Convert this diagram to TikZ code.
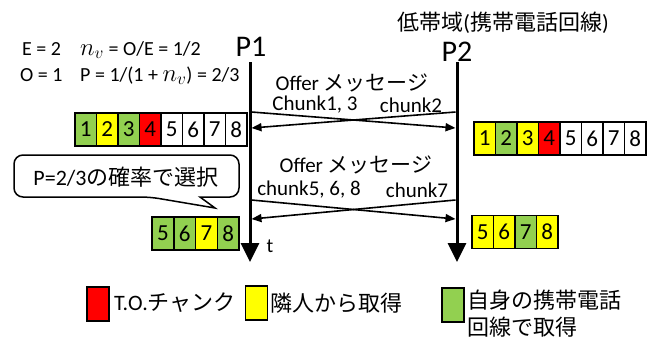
\documentclass[tikz,border=0pt]{standalone}
\usepackage{fontspec}
\setmainfont{Carlito}
\newfontfamily\jp{Noto Sans CJK JP}
\usetikzlibrary{arrows.meta}
\definecolor{cgreen}{HTML}{92D050}
\definecolor{cyellow}{HTML}{FFFF00}
\definecolor{cred}{HTML}{FF0000}
\begin{document}
\begin{tikzpicture}[x=1pt,y=-1pt,
  timeline/.style={line width=3pt,-{Triangle[width=18pt,length=19pt]}},
  msg/.style={line width=1.6pt,-{Triangle[width=8pt,length=10pt]}},
  cell/.style={draw,line width=1.5pt,minimum width=21.5pt,minimum height=33pt,inner sep=0pt,font=\fontsize{23}{23}\selectfont},
  legbox/.style={draw,line width=1.5pt,minimum width=22pt,minimum height=34pt,inner sep=0pt},
  txt/.style={inner sep=0pt},
  big/.style={txt,font=\fontsize{30}{30}\selectfont},
  mid/.style={txt,font=\fontsize{20}{20}\selectfont},
  sml/.style={txt,font=\fontsize{21}{21}\selectfont},
  leg/.style={txt,anchor=west,font=\fontsize{22}{22}\selectfont},
]
\useasboundingbox (0,0) rectangle (652,338);

% timelines
\coordinate (p1top) at (250,62);
\coordinate (p1bot) at (250,262);
\coordinate (p2top) at (457,62);
\coordinate (p2bot) at (457,262);
\draw[timeline] (p1top) -- (p1bot);
\draw[timeline] (p2top) -- (p2bot);

% labels at top
\node[big] (P1) at (251,47) {P1};
\node[big] (P2) at (457,52) {P2};
\node[txt,font=\fontsize{22}{22}\selectfont] (band) at (503,23) {{\jp 低帯域}({\jp 携帯電話回線})};

\node[mid,anchor=base west] (E) at (22,55) {E = 2};
\node[mid,anchor=base west] (nv) at (80,55) {{\fontsize{24}{24}\selectfont$n_v$} = O/E = 1/2};
\node[mid,anchor=base west] (O) at (20,81) {O = 1};
\node[mid,anchor=base west] (P) at (80,81) {P = 1/(1 + {\fontsize{24}{24}\selectfont$n_v$}) = 2/3};

% first exchange
\node[mid,font=\fontsize{21}{21}\selectfont] (offer1) at (352,83) {Offer {\jp メッセージ}};
\node[sml] (c13) at (315,105) {Chunk1, 3};
\node[sml] (c2) at (411,105) {chunk2};
\coordinate (a1) at (251.5,112);
\coordinate (b1) at (455.5,128);
\coordinate (a2) at (455.5,112);
\coordinate (b2) at (251.5,128);
\draw[msg] (a1) -- (b1);
\draw[msg] (a2) -- (b2);

% second exchange
\node[mid,font=\fontsize{21}{21}\selectfont] (offer2) at (356,165) {Offer {\jp メッセージ}};
\node[sml] (c568) at (309,190) {chunk5, 6, 8};
\node[sml] (c7) at (417,190) {chunk7};
\coordinate (a3) at (251.5,200);
\coordinate (b3) at (455.5,219);
\coordinate (a4) at (455.5,200);
\coordinate (b4) at (251.5,219);
\draw[msg] (a3) -- (b3);
\draw[msg] (a4) -- (b4);

\node[sml,font=\fontsize{20}{20}\selectfont] (t) at (270,246) {t};

% chunk cells
\foreach \i/\c in {1/cgreen,2/cyellow,3/cgreen,4/cred,5/white,6/white,7/white,8/white}
  \node[cell,fill=\c] (L\i) at ({85.75+21.5*(\i-1)},129.5) {\i};
\foreach \i/\c in {1/cyellow,2/cgreen,3/cyellow,4/cred,5/white,6/white,7/white,8/white}
  \node[cell,fill=\c] (R\i) at ({484.75+21.5*(\i-1)},138.5) {\i};
\foreach \i/\c in {5/cgreen,6/cgreen,7/cyellow,8/cgreen}
  \node[cell,fill=\c,minimum width=21.75pt] (LL\i) at ({162.9+21.75*(\i-5)},233.5) {\i};
\foreach \i/\c in {5/cyellow,6/cyellow,7/cgreen,8/cyellow}
  \node[cell,fill=\c] (RR\i) at ({482.75+21.5*(\i-5)},232) {\i};

% callout
\draw[line width=1.5pt,fill=white,rounded corners=9pt]
  (120,155) -- (14,155) -- (14,197) -- (150,197) [sharp corners] -- (215,208) -- (200,197)
  [rounded corners=9pt] -- (239,197) -- (239,155) -- cycle;
\node[txt,font=\fontsize{22}{22}\selectfont] (callout) at (126,177) {P=2/3{\jp の確率で選択}};

% legend
\node[legbox,fill=cred] (legR) at (98,304) {};
\node[leg] (legRt) at (114,303) {T.O.{\jp チャンク}};
\node[legbox,fill=cyellow] (legY) at (256.5,303) {};
\node[leg,font=\jp\fontsize{22}{22}\selectfont] (legYt) at (270,303) {隣人から取得};
\node[legbox,fill=cgreen] (legG) at (453,305) {};
\node[leg,font=\jp\fontsize{22}{22}\selectfont] (legGt1) at (467,300) {自身の携帯電話};
\node[leg,font=\jp\fontsize{22}{22}\selectfont] (legGt2) at (467,327) {回線で取得};
\end{tikzpicture}
\end{document}
